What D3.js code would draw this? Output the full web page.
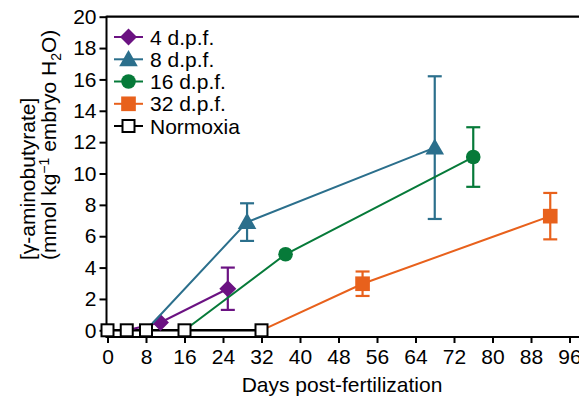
<!DOCTYPE html>
<html>
<head>
<meta charset="utf-8">
<script src="https://d3js.org/d3.v7.min.js"></script>
<style>
  body { margin: 0; background: #fff; }
  svg { display: block; font-family: "Liberation Sans", Arial, sans-serif; }
</style>
</head>
<body>
<div id="chart"></div>
<script>
// data (days, mmol/kg, s.e.m.)
const seriesNames = ["4 d.p.f.", "8 d.p.f.", "16 d.p.f.", "32 d.p.f."];
const seriesColors = ["#6b1282", "#2b6f8c", "#067a39", "#e8611c"];
const seriesShapes = ["diamond", "triangle", "circle", "square"];

const days4 = [4, 11, 25];
const gaba4 = [0, 0.5, 2.65];
const err4 = [0, 0, 1.35];

const days8 = [8, 29, 68];
const gaba8 = [0, 6.9, 11.65];
const err8 = [0, 1.2, 4.55];

const days16 = [16, 37, 76];
const gaba16 = [0, 4.85, 11.05];
const err16 = [0, 0, 1.9];

const days32 = [32, 53, 92];
const gaba32 = [0, 2.97, 7.28];
const err32 = [0, 0.78, 1.48];

const normDays = [0, 4, 8, 16, 32];
const normGaba = [0, 0, 0, 0, 0];

const xTicks = d3.range(0, 97, 8);
const yTicks = d3.range(0, 21, 2);

const width = 579, height = 398;
const x = d3.scaleLinear().domain([0, 96]).range([107.5, 569.5]);
const y = d3.scaleLinear().domain([0, 20]).range([330.3, 16.7]);
const axisY = 337; // x axis sits a little below zero

const svg = d3.select("#chart").append("svg")
  .attr("width", width).attr("height", height);

const series = [
  { d: days4, v: gaba4, e: err4 },
  { d: days8, v: gaba8, e: err8 },
  { d: days16, v: gaba16, e: err16 },
  { d: days32, v: gaba32, e: err32 }
].map((s, i) => ({
  name: seriesNames[i], color: seriesColors[i], shape: seriesShapes[i],
  pts: s.d.map((dd, j) => ({ day: dd, val: s.v[j], err: s.e[j] }))
}));

// axes frame
svg.append("line").attr("x1", x(0) - 1).attr("x2", width).attr("y1", y(20)).attr("y2", y(20))
  .attr("stroke", "#000").attr("stroke-width", 2.2);
svg.append("line").attr("x1", x(0) - 1).attr("x2", width).attr("y1", axisY).attr("y2", axisY)
  .attr("stroke", "#000").attr("stroke-width", 2);
svg.append("line").attr("x1", x(0) - 1).attr("x2", x(0) - 1).attr("y1", y(20) - 1).attr("y2", axisY + 1)
  .attr("stroke", "#000").attr("stroke-width", 2);

// ticks
const gx = svg.append("g").attr("transform", `translate(0,${axisY})`)
  .call(d3.axisBottom(x).tickValues(xTicks).tickSize(6).tickPadding(6));
gx.select(".domain").remove();
gx.selectAll("line").attr("stroke-width", 2);
gx.selectAll("text").attr("font-size", 21).attr("fill", "#000")
  .attr("font-family", "Liberation Sans, Arial, sans-serif");

const gy = svg.append("g").attr("transform", `translate(${x(0) - 1},0)`)
  .call(d3.axisLeft(y).tickValues(yTicks).tickSize(7).tickPadding(3));
gy.select(".domain").remove();
gy.selectAll("line").attr("stroke-width", 2);
gy.selectAll("text").attr("font-size", 21).attr("fill", "#000")
  .attr("font-family", "Liberation Sans, Arial, sans-serif");

// axis titles
svg.append("text").attr("x", 342).attr("y", 392).attr("text-anchor", "middle")
  .attr("font-size", 21).text("Days post-fertilization");

const yl = svg.append("g").attr("transform", "translate(0,260) rotate(-90)");
yl.append("text").attr("x", 0).attr("y", 35).attr("font-size", 21).text("[γ-aminobutyrate]");
const t2 = yl.append("text").attr("x", 0).attr("y", 56).attr("font-size", 21);
t2.append("tspan").text("(mmol kg");
t2.append("tspan").attr("dy", -7).attr("font-size", 14).text("−1");
t2.append("tspan").attr("dy", 7).text(" embryo H");
t2.append("tspan").attr("dy", 5).attr("font-size", 14).text("2");
t2.append("tspan").attr("dy", -5).text("O)");

const line = d3.line().x(p => x(p.day)).y(p => y(p.val));

// marker drawing
function marker(g, shape, color, cx, cy) {
  if (shape === "circle") {
    g.append("circle").attr("cx", cx).attr("cy", cy).attr("r", 7.3).attr("fill", color);
  } else if (shape === "diamond") {
    const r = 8.5;
    g.append("path").attr("d", `M${cx},${cy - r}L${cx + r},${cy}L${cx},${cy + r}L${cx - r},${cy}Z`)
      .attr("fill", color);
  } else {
    const sym = { triangle: d3.symbolTriangle, square: d3.symbolSquare }[shape];
    const size = { triangle: 150, square: 215 }[shape];
    g.append("path").attr("d", d3.symbol(sym, size)())
      .attr("transform", `translate(${cx},${cy + (shape === "triangle" ? 1.5 : 0)})`)
      .attr("fill", color);
  }
}

// normoxia line goes under everything
svg.append("path")
  .datum(normDays.map((dd, i) => ({ day: dd, val: normGaba[i] })))
  .attr("d", line).attr("fill", "none").attr("stroke", "#000").attr("stroke-width", 2.5);

series.forEach(s => {
  const g = svg.append("g");
  g.append("path").datum(s.pts).attr("d", line)
    .attr("fill", "none").attr("stroke", s.color).attr("stroke-width", 2);
  s.pts.filter(p => p.err > 0).forEach(p => {
    const cap = 7;
    g.append("line").attr("x1", x(p.day)).attr("x2", x(p.day))
      .attr("y1", y(p.val + p.err)).attr("y2", y(p.val - p.err))
      .attr("stroke", s.color).attr("stroke-width", 2.2);
    [p.val + p.err, p.val - p.err].forEach(v => {
      g.append("line").attr("x1", x(p.day) - cap).attr("x2", x(p.day) + cap)
        .attr("y1", y(v)).attr("y2", y(v))
        .attr("stroke", s.color).attr("stroke-width", 2.2);
    });
  });
  s.pts.filter(p => p.val > 0).forEach(p => marker(g, s.shape, s.color, x(p.day), y(p.val)));
});

// normoxia open squares on top
svg.append("g").selectAll("rect")
  .data(normDays.map((dd, i) => ({ day: dd, val: normGaba[i] })))
  .join("rect")
  .attr("x", d => x(d.day) - 6).attr("y", d => y(d.val) - 6)
  .attr("width", 12).attr("height", 12)
  .attr("fill", "#fff").attr("stroke", "#000").attr("stroke-width", 2);

// legend
const legNames = seriesNames.concat(["Normoxia"]);
const legY = [37, 59.3, 81.5, 103.8, 126];
legNames.forEach((nm, i) => {
  const g = svg.append("g");
  const c = i < 4 ? seriesColors[i] : "#000";
  g.append("line").attr("x1", 114).attr("x2", 143).attr("y1", legY[i]).attr("y2", legY[i])
    .attr("stroke", c).attr("stroke-width", 2);
  if (i < 4) marker(g, seriesShapes[i], c, 128.5, legY[i]);
  else g.append("rect").attr("x", 122.5).attr("y", legY[i] - 6).attr("width", 12).attr("height", 12)
    .attr("fill", "#fff").attr("stroke", "#000").attr("stroke-width", 2);
  g.append("text").attr("x", 150).attr("y", legY[i] + 7.5).attr("font-size", 21).text(nm);
});
</script>
</body>
</html>
